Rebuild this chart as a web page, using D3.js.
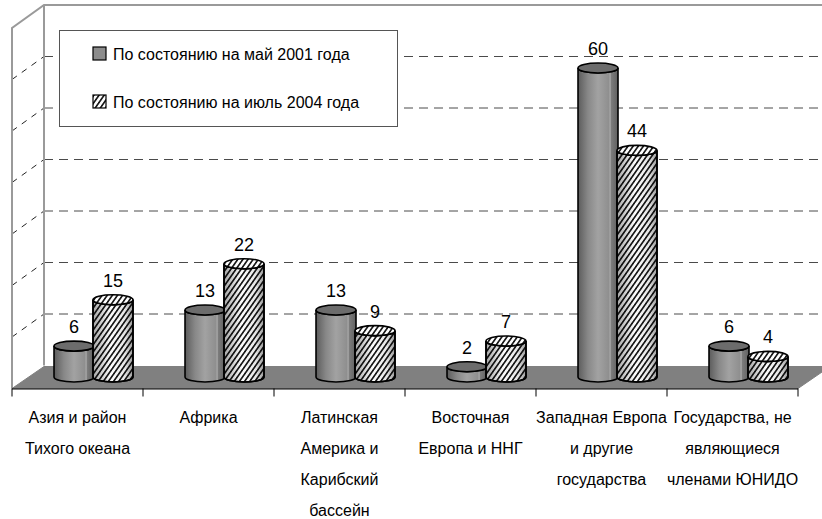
<!DOCTYPE html>
<html>
<head>
<meta charset="utf-8">
<script src="https://cdn.jsdelivr.net/npm/d3@7"></script>
<style>
  body { margin: 0; background: #fff; }
  text { font-family: Arial, "Liberation Sans", sans-serif; fill: #000; }
</style>
</head>
<body>
<div id="chart"></div>
<script>
//Chart data
var categories = [
    ["Азия и район", "Тихого океана"],
    ["Африка"],
    ["Латинская", "Америка и", "Карибский", "бассейн"],
    ["Восточная", "Европа и ННГ"],
    ["Западная Европа", "и другие", "государства"],
    ["Государства, не", "являющиеся", "членами ЮНИДО"]
];
var seriesNames = ["По состоянию на май 2001 года", "По состоянию на июль 2004 года"];
var may2001 = [6, 13, 13, 2, 60, 6];
var july2004 = [15, 22, 9, 7, 44, 4];
var yTicks = [0, 10, 20, 30, 40, 50, 60, 70];

var width = 822;
var height = 519;
//3d depth offset of the plot
var depthX = 32;
var depthY = -23;

var svg = d3.select("#chart").append("svg")
    .attr("width", width)
    .attr("height", height);

var defs = svg.append("defs");

//Gradient for the solid grey cylinders
var grad = defs.append("linearGradient").attr("id", "greyCyl");
[[0, "#5c5c5c"], [0.25, "#888"], [0.5, "#a2a2a2"], [0.78, "#8e8e8e"], [0.8, "#b4b4b4"], [0.83, "#7c7c7c"], [1, "#606060"]]
    .forEach(function(s) {
        grad.append("stop").attr("offset", s[0]).attr("stop-color", s[1]);
    });

//Hatch pattern for the second series
var hatch = defs.append("pattern")
    .attr("id", "hatch")
    .attr("patternUnits", "userSpaceOnUse")
    .attr("width", 4.2)
    .attr("height", 4.2)
    .attr("patternTransform", "rotate(35)");
hatch.append("rect").attr("width", 4.2).attr("height", 4.2).attr("fill", "#fff");
hatch.append("rect").attr("width", 1.7).attr("height", 4.2).attr("fill", "#1a1a1a");

var shade = defs.append("linearGradient").attr("id", "hatchShade");
[[0, 0.35], [0.45, 0], [0.8, 0.1], [1, 0.4]].forEach(function(s) {
    shade.append("stop").attr("offset", s[0]).attr("stop-color", "#000").attr("stop-opacity", s[1]);
});

//Scales
var x = d3.scaleBand()
    .domain(d3.range(categories.length))
    .range([12, 798]);

var inner = d3.scaleBand()
    .domain([0, 1])
    .range([0, x.bandwidth()])
    .paddingOuter(0.68);

var y = d3.scaleLinear()
    .domain([0, 70])
    .range([388.5, 28]);

var yBack = function(v) { return y(v) + depthY; };
var xBack = function(v) { return v + depthX; };

//Back wall gridlines
svg.selectAll(".grid")
    .data(yTicks.slice(1, -1))
    .enter().append("line")
    .attr("class", "grid")
    .attr("x1", xBack(x.range()[0]))
    .attr("x2", width)
    .attr("y1", function(d) { return yBack(d); })
    .attr("y2", function(d) { return yBack(d); })
    .attr("stroke", "#4a4a4a")
    .attr("stroke-width", 1)
    .attr("stroke-dasharray", "9,6");

//Side wall gridlines
svg.selectAll(".sgrid")
    .data(yTicks.slice(1, -1))
    .enter().append("line")
    .attr("class", "sgrid")
    .attr("x1", x.range()[0])
    .attr("x2", xBack(x.range()[0]))
    .attr("y1", function(d) { return y(d); })
    .attr("y2", function(d) { return yBack(d); })
    .attr("stroke", "#222")
    .attr("stroke-width", 1)
    .attr("stroke-dasharray", "6,6");

//Wall outlines
var x0 = x.range()[0];
var wall = d3.path();
wall.moveTo(x0, y(0));
wall.lineTo(x0, y(70));
wall.lineTo(xBack(x0), yBack(70));
wall.lineTo(width, yBack(70));
wall.moveTo(xBack(x0), yBack(70));
wall.lineTo(xBack(x0), yBack(0));
svg.append("path")
    .attr("d", wall.toString())
    .attr("fill", "none")
    .attr("stroke", "#9a9a9a")
    .attr("stroke-width", 2);

//Floor
var x1 = x.range()[1];
svg.append("path")
    .attr("d", "M" + x0 + "," + y(0) + "L" + xBack(x0) + "," + (yBack(0) + 1) +
        "L" + xBack(x1) + "," + (yBack(0) + 1) + "L" + x1 + "," + y(0) + "Z")
    .attr("fill", "#808080")
    .attr("stroke", "#808080");

svg.append("line")
    .attr("x1", x0).attr("x2", x1)
    .attr("y1", y(0) + 0.5).attr("y2", y(0) + 0.5)
    .attr("stroke", "#000")
    .attr("stroke-width", 1.2);

//Category ticks
svg.selectAll(".tick")
    .data(d3.range(categories.length + 1))
    .enter().append("line")
    .attr("x1", function(i) { return x0 + i * x.step(); })
    .attr("x2", function(i) { return x0 + i * x.step(); })
    .attr("y1", y(0))
    .attr("y2", y(0) + 8)
    .attr("stroke", "#000");

//Cylinder data from both series
var bars = [];
categories.forEach(function(c, i) {
    bars.push({ cat: i, s: 0, value: may2001[i] });
    bars.push({ cat: i, s: 1, value: july2004[i] });
});

var rx = inner.bandwidth() / 2 + 0.5;
var ry = 5;

var cylPath = function(d) {
    var base = y(0) + depthY / 2;
    var top = y(d.value) + depthY / 2;
    return "M" + (-rx) + "," + top + "L" + (-rx) + "," + base +
        "A" + rx + "," + ry + " 0 0 0 " + rx + "," + base +
        "L" + rx + "," + top +
        "A" + rx + "," + ry + " 0 0 1 " + (-rx) + "," + top + "Z";
};

var cyl = svg.selectAll(".cyl")
    .data(bars)
    .enter().append("g")
    .attr("class", "cyl")
    .attr("transform", function(d) {
        var cx = x(d.cat) + inner(d.s) + inner.bandwidth() / 2 + depthX / 2;
        return "translate(" + cx + ",0)";
    });

//Cylinder body
cyl.append("path")
    .attr("d", cylPath)
    .attr("fill", function(d) { return d.s === 0 ? "url(#greyCyl)" : "url(#hatch)"; })
    .attr("stroke", "#000")
    .attr("stroke-width", 1.6);

//Shading over the hatched body
cyl.filter(function(d) { return d.s === 1; })
    .append("path")
    .attr("d", cylPath)
    .attr("fill", "url(#hatchShade)")
    .attr("stroke", "#000")
    .attr("stroke-width", 1.6);

//Cylinder top
cyl.append("ellipse")
    .attr("cx", 0)
    .attr("cy", function(d) { return y(d.value) + depthY / 2; })
    .attr("rx", rx)
    .attr("ry", ry)
    .attr("fill", function(d) { return d.s === 0 ? "#6c6c6c" : "url(#hatch)"; })
    .attr("stroke", "#000")
    .attr("stroke-width", 1.6);

//Value labels
cyl.append("text")
    .attr("x", 0)
    .attr("y", function(d) { return y(d.value) + depthY / 2 - ry - 8; })
    .attr("text-anchor", "middle")
    .style("font-size", "18px")
    .text(function(d) { return d.value; });

//Category labels
var catLabels = svg.selectAll(".catLabel")
    .data(categories)
    .enter().append("text")
    .attr("class", "catLabel")
    .attr("text-anchor", "middle")
    .style("font-size", "16px")
    .attr("transform", function(d, i) {
        return "translate(" + (x(i) + x.bandwidth() / 2) + ",423)";
    });

catLabels.selectAll("tspan")
    .data(function(d) { return d; })
    .enter().append("tspan")
    .attr("x", 0)
    .attr("y", function(d, j) { return j * 31; })
    .text(function(d) { return d; });

//Legend
var legend = svg.append("g").attr("transform", "translate(59,30)");

legend.append("rect")
    .attr("x", 0.5).attr("y", 0.5)
    .attr("width", 338).attr("height", 96)
    .attr("fill", "#fff")
    .attr("stroke", "#555")
    .attr("stroke-width", 1);

var item = legend.selectAll(".item")
    .data(seriesNames)
    .enter().append("g")
    .attr("class", "item")
    .attr("transform", function(d, i) { return "translate(34," + (17 + i * 48) + ")"; });

item.append("rect")
    .attr("width", 13).attr("height", 13)
    .attr("fill", function(d, i) { return i === 0 ? "#8c8c8c" : "url(#hatch)"; })
    .attr("stroke", "#000")
    .attr("stroke-width", 1.2);

item.append("text")
    .attr("x", 20)
    .attr("y", 12.5)
    .style("font-size", "16px")
    .text(function(d) { return d; });
</script>
</body>
</html>
